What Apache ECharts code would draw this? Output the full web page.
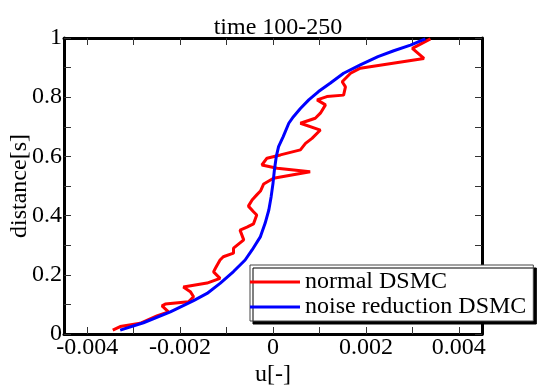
<!DOCTYPE html>
<html>
<head>
<meta charset="utf-8">
<script src="https://cdn.jsdelivr.net/npm/echarts@6/dist/echarts.min.js"></script>
<style>
html,body{margin:0;padding:0;background:#fff;}
#c{width:537px;height:387px;}
</style>
</head>
<body>
<div id="c"></div>
<script>
var titleText = 'time 100-250';
var xName = 'u[-]';
var yName = 'distance[s]';
var seriesNames = ['normal DSMC', 'noise reduction DSMC'];

var xLabelValues = [-0.004, -0.002, 0, 0.002, 0.004];
var xTickValues = [-0.004, -0.003, -0.002, -0.001, 0, 0.001, 0.002, 0.003, 0.004];
var yLabelValues = [0, 0.2, 0.4, 0.6, 0.8, 1];
var yTickValues = [0, 0.1, 0.2, 0.3, 0.4, 0.5, 0.6, 0.7, 0.8, 0.9, 1];

// normal DSMC (red)
var normalU = [-0.00345, -0.00329, -0.00286, -0.00250, -0.00225, -0.00239, -0.00232, -0.00182, -0.00171, -0.00178,
  -0.00193, -0.00142, -0.00114, -0.00128, -0.00124, -0.00114, -0.00107, -0.00085, -0.00085, -0.00063,
  -0.00071, -0.00056, -0.00042, -0.00035, -0.00042, -0.00053, -0.00045, -0.00035, -0.00027, -0.00020,
  0.00001, 0.00080, 0.00009, -0.00024, -0.00013, 0.00016, 0.00059, 0.00070, 0.00084, 0.00102,
  0.00059, 0.00091, 0.00102, 0.00113, 0.00095, 0.00116, 0.00152, 0.00156, 0.00149, 0.00167,
  0.00188, 0.00325, 0.00300, 0.00339];
var normalD = [0.013, 0.025, 0.036, 0.061, 0.075, 0.095, 0.101, 0.109, 0.126, 0.143,
  0.159, 0.172, 0.188, 0.210, 0.222, 0.250, 0.261, 0.273, 0.290, 0.318,
  0.351, 0.361, 0.372, 0.402, 0.413, 0.432, 0.453, 0.470, 0.483, 0.507,
  0.526, 0.548, 0.560, 0.571, 0.594, 0.605, 0.622, 0.644, 0.661, 0.689,
  0.712, 0.729, 0.746, 0.774, 0.791, 0.802, 0.807, 0.835, 0.852, 0.881,
  0.898, 0.931, 0.965, 0.997];

// noise reduction DSMC (blue)
var reducedU = [-0.00329, -0.00279, -0.00221, -0.00171, -0.00142, -0.00114, -0.00085, -0.00060, -0.00045, -0.00027,
  -0.00017, -0.00009, -0.00004, 0.00000, 0.00003, 0.00007, 0.00012, 0.00022, 0.00034, 0.00044,
  0.00059, 0.00077, 0.00098, 0.00123, 0.00152, 0.00188, 0.00226, 0.00260, 0.00296, 0.00328];
var reducedD = [0.013, 0.038, 0.075, 0.113, 0.137, 0.171, 0.211, 0.250, 0.284, 0.329,
  0.374, 0.419, 0.464, 0.509, 0.554, 0.599, 0.633, 0.667, 0.712, 0.734,
  0.762, 0.791, 0.819, 0.847, 0.881, 0.909, 0.937, 0.957, 0.976, 0.997];

function zip(a, b) { return a.map(function (v, i) { return [v, b[i]]; }); }

var FONT = "'Liberation Serif', 'Times New Roman', 'DejaVu Serif', serif";
var chart = echarts.init(document.getElementById('c'), null, {renderer: 'canvas'});

function xAxisCfg(pos, showLabel) {
  return {
    type: 'value', position: pos, min: -0.0045, max: 0.0045,
    name: showLabel ? xName : '', nameLocation: 'middle', nameGap: 29, nameMoveOverlap: false,
    nameTextStyle: {fontFamily: FONT, fontSize: 24, color: '#000'},
    axisLine: {show: true, onZero: false, lineStyle: {color: '#000', width: 3}},
    axisTick: {show: true, inside: true, length: 7, customValues: xTickValues, lineStyle: {color: '#333', width: 1}},
    axisLabel: {show: showLabel, customValues: xLabelValues, margin: 2, fontFamily: FONT, fontSize: 24, color: '#000',
      formatter: function (v) { return String(+v.toFixed(3)); }},
    splitLine: {show: false}
  };
}
function yAxisCfg(pos, showLabel) {
  return {
    type: 'value', position: pos, min: 0, max: 1,
    name: showLabel ? yName : '', nameLocation: 'middle', nameGap: 32, nameRotate: 90, nameMoveOverlap: false,
    nameTextStyle: {fontFamily: FONT, fontSize: 24, color: '#000'},
    axisLine: {show: true, onZero: false, lineStyle: {color: '#000', width: 3}},
    axisTick: {show: true, inside: true, length: 7, customValues: yTickValues, lineStyle: {color: '#333', width: 1}},
    axisLabel: {show: showLabel, customValues: yLabelValues, margin: 2, fontFamily: FONT, fontSize: 24, color: '#000',
      formatter: function (v) { return String(+v.toFixed(1)); }},
    splitLine: {show: false}
  };
}

chart.setOption({
  animation: false,
  backgroundColor: '#fff',
  title: {
    text: titleText, left: 273, top: 11, textAlign: 'center',
    textStyle: {fontFamily: FONT, fontSize: 24, fontWeight: 'normal', color: '#000'}
  },
  grid: {left: 64, right: 55, top: 38, bottom: 53, containLabel: false, outerBoundsMode: 'none'},
  xAxis: [xAxisCfg('bottom', true), xAxisCfg('top', false)],
  yAxis: [yAxisCfg('left', true), yAxisCfg('right', false)],
  legend: {
    orient: 'vertical', left: 250, top: 265,
    padding: [5, 7, 2, 0], itemGap: 1, itemWidth: 50, itemHeight: 3,
    backgroundColor: '#fff', borderColor: '#444', borderWidth: 1,
    shadowColor: '#000', shadowBlur: 0, shadowOffsetX: 3, shadowOffsetY: 3,
    textStyle: {fontFamily: FONT, fontSize: 24, color: '#000', lineHeight: 24},
    data: [{name: seriesNames[0], icon: 'rect'}, {name: seriesNames[1], icon: 'rect'}]
  },
  series: [
    {name: seriesNames[0], type: 'line', data: zip(normalU, normalD), symbol: 'none',
      lineStyle: {color: '#ff0000', width: 3}, itemStyle: {color: '#ff0000'}, z: 2},
    {name: seriesNames[1], type: 'line', data: zip(reducedU, reducedD), symbol: 'none',
      lineStyle: {color: '#0000ff', width: 3}, itemStyle: {color: '#0000ff'}, z: 3}
  ]
});
</script>
</body>
</html>
